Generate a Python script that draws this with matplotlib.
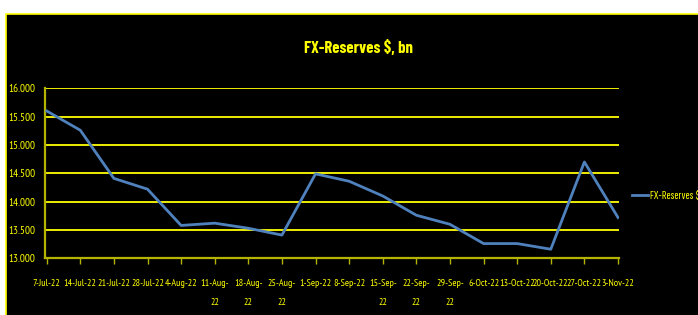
import matplotlib

matplotlib.use("Agg")
import matplotlib.pyplot as plt
from matplotlib import font_manager
from matplotlib.patches import Rectangle

dates = ["7-Jul-22", "14-Jul-22", "21-Jul-22", "28-Jul-22", "4-Aug-22", "11-Aug-\n22",
         "18-Aug-\n22", "25-Aug-\n22", "1-Sep-22", "8-Sep-22", "15-Sep-\n22", "22-Sep-\n22",
         "29-Sep-\n22", "6-Oct-22", "13-Oct-22", "20-Oct-22", "27-Oct-22", "3-Nov-22"]
reserves = [15.60, 15.26, 14.41, 14.22, 13.58, 13.62, 13.53, 13.41, 14.49, 14.36,
            14.10, 13.76, 13.60, 13.26, 13.26, 13.16, 14.70, 13.72]
y_ticks = [13.0, 13.5, 14.0, 14.5, 15.0, 15.5, 16.0]
series_name = "FX-Reserves $, bn"

YELLOW = "#ffff00"
OLIVE = "#b4b400"
BLUE = "#4f81bd"

fonts = font_manager.fontManager.ttflist
installed = {f.name for f in fonts}
bold_ok = {f.name for f in fonts if isinstance(f.weight, int) and f.weight >= 600 or f.weight == "bold"}


def pick(cands, need_bold=False):
    pool = bold_ok if need_bold else installed
    found = [n for n in cands if n in pool]
    return found[:1] + ["DejaVu Sans"]


# Excel's Calibri looks squeezed in the reference, so go for narrow faces
CONDENSED = ["Sofia Sans Extra Condensed", "Saira Extra Condensed", "Barlow Condensed",
             "Roboto Condensed", "PT Sans Narrow"]
FONT = pick(["PT Sans Narrow", "Liberation Sans Narrow", "Archivo Narrow", "Roboto Condensed", "Carlito"])
TITLE_FONT = pick(CONDENSED, need_bold=True)
LEGEND_FONT = pick(CONDENSED)

W, H = 698, 315
fig = plt.figure(figsize=(W / 100, H / 100), dpi=100)
fig.patch.set_facecolor("white")
fig.patches.append(Rectangle((6 / W, -0.01), 1.0, (H - 14) / H + 0.01, transform=fig.transFigure,
                             facecolor="black", edgecolor=YELLOW, linewidth=1.2, zorder=-5))

ax = fig.add_axes([45 / W, (H - 258.3) / H, (619 - 45) / W, (258.3 - 88.3) / H])
ax.set_facecolor("black")

x = list(range(len(dates)))
ax.plot(x, reserves, color=BLUE, linewidth=2.0, label=series_name, zorder=3)

ax.set_xlim(-0.05, len(dates) - 1 + 0.03)
ax.set_ylim(13.0, 16.0)
ax.set_yticks(y_ticks)
ax.set_yticklabels([f"{v:.3f}" for v in y_ticks])
ax.set_xticks(x)
ax.set_xticklabels(dates, linespacing=2.4)

for v in y_ticks[1:]:
    ax.axhline(v, color=YELLOW, linewidth=1.3, zorder=1)

for s in ["top", "right"]:
    ax.spines[s].set_visible(False)
for s in ["left", "bottom"]:
    ax.spines[s].set_color(OLIVE)
    ax.spines[s].set_linewidth(1.6)

ax.tick_params(axis="x", colors=OLIVE, length=4, width=1, pad=11)
ax.tick_params(axis="y", colors=OLIVE, length=0, pad=7)
for lbl in ax.get_xticklabels():
    lbl.set_color(YELLOW)
    lbl.set_family(FONT)
    lbl.set_fontsize(7.2)
for lbl in ax.get_yticklabels():
    lbl.set_color(YELLOW)
    lbl.set_family(FONT)
    lbl.set_fontsize(8)

fig.text(358.5 / W, (H - 48) / H, series_name, color=YELLOW, fontsize=12, fontweight="bold",
         family=TITLE_FONT, ha="center", va="center")

leg = ax.legend(loc="center left", bbox_to_anchor=((632 - 45) / 574, 0.368), frameon=False,
                borderaxespad=0, borderpad=0, handlelength=1.3, handletextpad=0.15,
                prop={"family": LEGEND_FONT, "size": 9})
for t in leg.get_texts():
    t.set_color(YELLOW)

fig.savefig("out.png", dpi=100, facecolor=fig.get_facecolor())
